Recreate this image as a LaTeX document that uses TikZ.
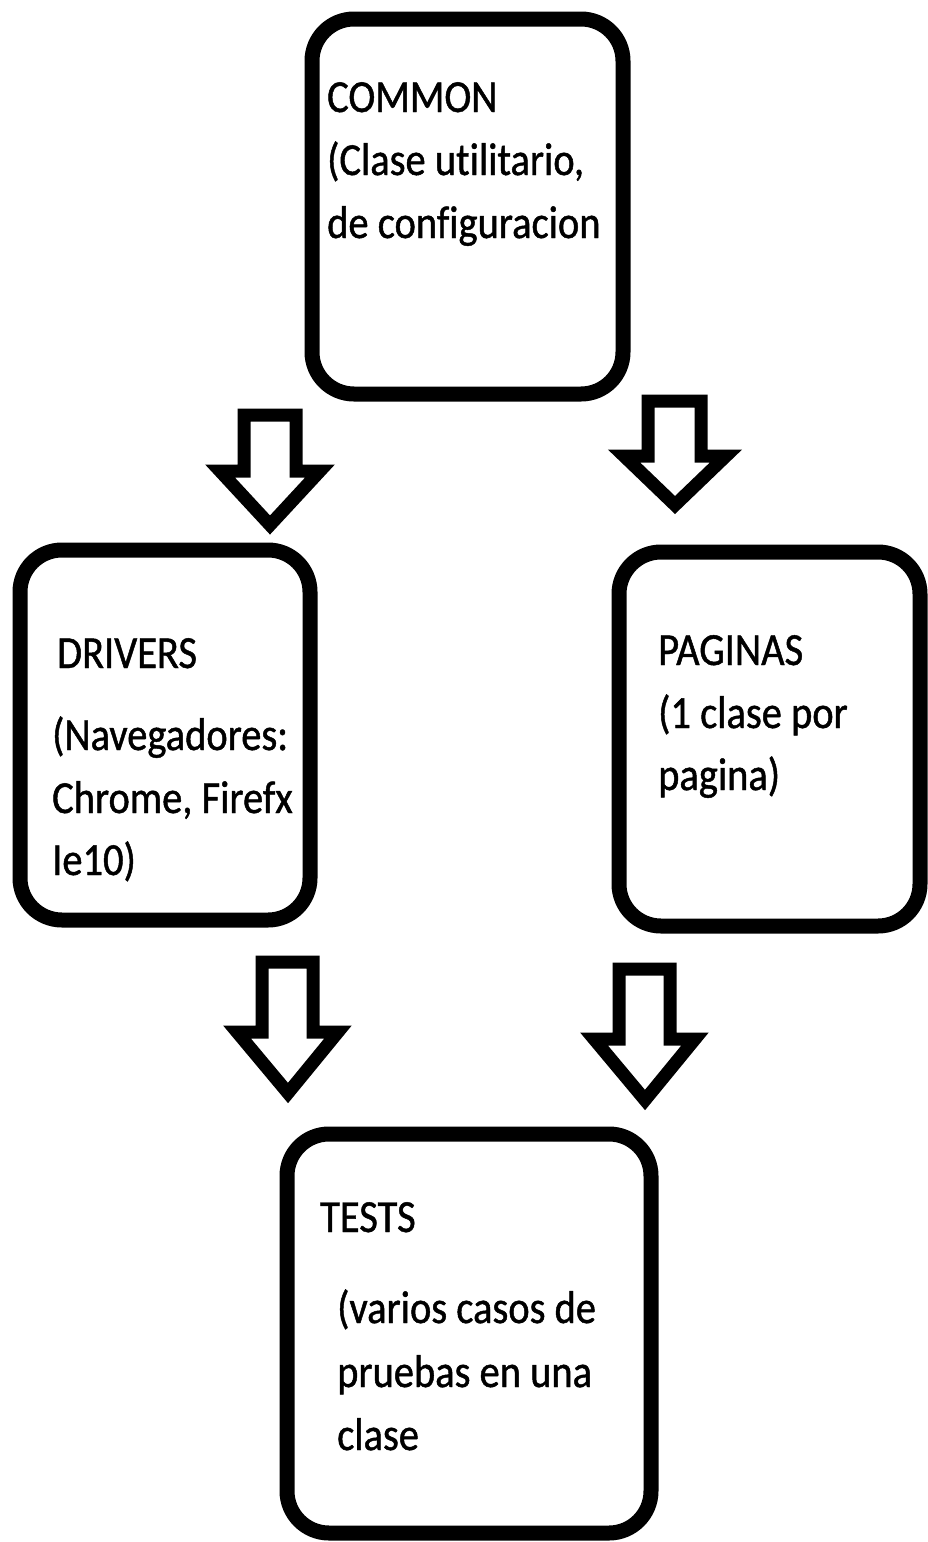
\documentclass[tikz,border=0pt]{standalone}
\usepackage{fontspec}
\setmainfont{Carlito}[FakeStretch=0.88, FakeBold=1, Ligatures=NoCommon]
\begin{document}
\begin{tikzpicture}[x=1pt,y=-1pt,
  box/.style={draw=black, line width=15pt, rounded corners=42pt, fill=white},
  blockarrow/.style={draw=black, line width=13pt, line join=miter, fill=white},
  txt/.style={anchor=base west, inner sep=0pt, font=\fontsize{46}{63}\selectfont}]
\useasboundingbox (0,0) rectangle (927,1542);

% boxes
\draw[box] (312,19) rectangle (623,394);
\draw[box] (20,550) rectangle (310,920);
\draw[box] (619,552) rectangle (920,926);
\draw[box] (287,1134) rectangle (651,1533);

% COMMON
\node[txt] (c1) at (327,112) {COMMON};
\node[txt] (c2) at (327,175) {(Clase utilitario,};
\node[txt] (c3) at (327,238) {de configuracion};

% DRIVERS
\node[txt] (d1) at (57,668) {DRIVERS};
\node[txt] (d2) at (52,750) {(Navegadores:};
\node[txt] (d3) at (52,813) {Chrome, Firefx};
\node[txt] (d4) at (52,875) {Ie10)};

% PAGINAS
\node[txt] (p1) at (658,665) {PAGINAS};
\node[txt] (p2) at (658,728) {(1 clase por};
\node[txt] (p3) at (658,790) {pagina)};

% TESTS
\node[txt] (t1) at (320,1232) {TESTS};
\node[txt] (t2) at (337,1323) {(varios casos de};
\node[txt] (t3) at (337,1387) {pruebas en una};
\node[txt] (t4) at (337,1450) {clase};

% hollow block arrows
\draw[blockarrow] (244,415) -- (296,415) -- (296,471) -- (320,471) -- (270,525)
  -- (220,471) -- (244,471) -- cycle;
\draw[blockarrow] (648,401) -- (701,401) -- (701,456) -- (726,456) -- (675,505)
  -- (624,456) -- (648,456) -- cycle;
\draw[blockarrow] (262,962) -- (313,962) -- (313,1032) -- (338,1032) -- (288,1093)
  -- (237,1032) -- (262,1032) -- cycle;
\draw[blockarrow] (619,969) -- (670,969) -- (670,1039) -- (695,1039) -- (645,1100)
  -- (594,1039) -- (619,1039) -- cycle;
\end{tikzpicture}
\end{document}
